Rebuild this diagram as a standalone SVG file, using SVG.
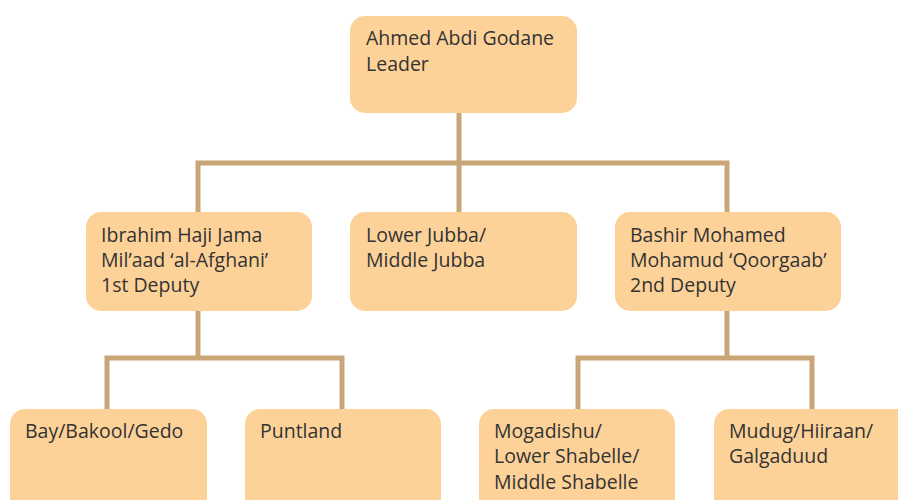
<svg xmlns="http://www.w3.org/2000/svg" width="898" height="500" viewBox="0 0 898 500">
<style>
.n{fill:#fdd299;}
.t{font-family:"Open Sans","Noto Sans",sans-serif;font-size:19.5px;fill:#333333;}
.c{fill:none;stroke:#c9a678;stroke-width:5;}
</style>
<rect width="898" height="500" fill="#ffffff"/>
<g id="connectors">
<path class="c" d="M459 113V163M198 212V163H727V212M459 163V212"/>
<path class="c" d="M198 311V358M107 409V358H342V409"/>
<path class="c" d="M727 311V358M578 409V358H812V409"/>
</g>
<g id="leader"><rect class="n" x="350" y="16" width="227" height="97" rx="15"/><text class="t" x="366" y="45">Ahmed Abdi Godane</text><text class="t" x="366" y="71">Leader</text></g>
<g id="deputy1"><rect class="n" x="86" y="212" width="226" height="99" rx="15"/><text class="t" x="101" y="242">Ibrahim Haji Jama</text><text class="t" x="101" y="267">Mil’aad ‘al-Afghani’</text><text class="t" x="101" y="292">1st Deputy</text></g>
<g id="jubba"><rect class="n" x="350" y="212" width="227" height="99" rx="15"/><text class="t" x="366" y="242">Lower Jubba/</text><text class="t" x="366" y="267">Middle Jubba</text></g>
<g id="deputy2"><rect class="n" x="615" y="212" width="226" height="99" rx="15"/><text class="t" x="630" y="242">Bashir Mohamed</text><text class="t" x="630" y="267">Mohamud ‘Qoorgaab’</text><text class="t" x="630" y="292">2nd Deputy</text></g>
<g id="bay"><rect class="n" x="10" y="409" width="197" height="110" rx="15"/><text class="t" x="25" y="438">Bay/Bakool/Gedo</text></g>
<g id="puntland"><rect class="n" x="245" y="409" width="196" height="110" rx="15"/><text class="t" x="260" y="438">Puntland</text></g>
<g id="mogadishu"><rect class="n" x="479" y="409" width="196" height="110" rx="15"/><text class="t" x="494" y="438">Mogadishu/</text><text class="t" x="494" y="463">Lower Shabelle/</text><text class="t" x="494" y="489">Middle Shabelle</text></g>
<g id="mudug"><rect class="n" x="714" y="409" width="200" height="110" rx="15"/><text class="t" x="729" y="438">Mudug/Hiiraan/</text><text class="t" x="729" y="463">Galgaduud</text></g>
</svg>
